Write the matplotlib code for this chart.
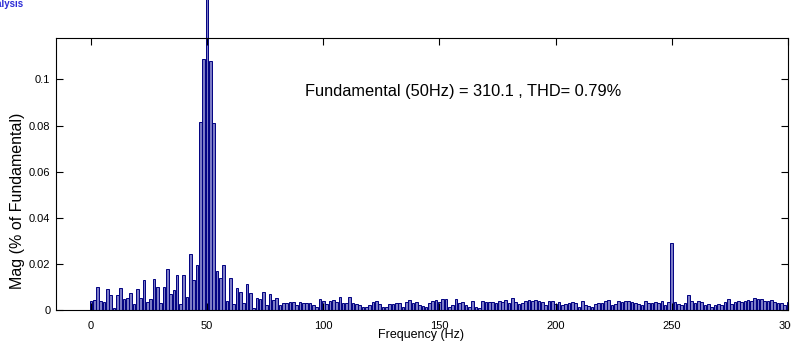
import numpy as np
from matplotlib import pyplot as plt

plt.rcParams['font.family'] = ['Liberation Sans', 'DejaVu Sans']

# FFT bins, 0.7 s window -> 10/7 Hz resolution, bin 35 = 50 Hz fundamental
freq_step = 10 / 7
mag = [
    0.0041, 0.0043, 0.0101, 0.0041, 0.0036, 0.0090, 0.0064, 0.0010, 0.0064, 0.0094,
    0.0048, 0.0051, 0.0075, 0.0026, 0.0090, 0.0052, 0.0128, 0.0036, 0.0048, 0.0133,
    0.0101, 0.0032, 0.0101, 0.0177, 0.0070, 0.0087, 0.0151, 0.0026, 0.0151, 0.0058,
    0.0241, 0.0128, 0.0194, 0.0817, 0.1090, 1.0000, 0.1080, 0.0810, 0.0171, 0.0139,
    0.0197, 0.0041, 0.0139, 0.0026, 0.0096, 0.0080, 0.0032, 0.0113, 0.0072, 0.0010,
    0.0054, 0.0048, 0.0080, 0.0022, 0.0070, 0.0043, 0.0052, 0.0020, 0.0032, 0.0029,
    0.0036, 0.0036, 0.0022, 0.0036, 0.0029, 0.0029, 0.0032, 0.0022, 0.0014, 0.0048,
    0.0041, 0.0024, 0.0041, 0.0043, 0.0035, 0.0055, 0.0032, 0.0029, 0.0058, 0.0029,
    0.0026, 0.0023, 0.0012, 0.0014, 0.0020, 0.0035, 0.0038, 0.0026, 0.0014, 0.0012,
    0.0026, 0.0026, 0.0029, 0.0032, 0.0012, 0.0035, 0.0043, 0.0029, 0.0035, 0.0023,
    0.0017, 0.0014, 0.0032, 0.0038, 0.0043, 0.0035, 0.0049, 0.0049, 0.0012, 0.0023,
    0.0049, 0.0029, 0.0035, 0.0020, 0.0014, 0.0038, 0.0012, 0.0009, 0.0038, 0.0035,
    0.0035, 0.0035, 0.0032, 0.0041, 0.0035, 0.0043, 0.0029, 0.0052, 0.0035, 0.0026,
    0.0032, 0.0038, 0.0043, 0.0041, 0.0043, 0.0038, 0.0035, 0.0023, 0.0038, 0.0041,
    0.0025, 0.0035, 0.0023, 0.0026, 0.0032, 0.0035, 0.0032, 0.0012, 0.0038, 0.0023,
    0.0017, 0.0014, 0.0026, 0.0029, 0.0032, 0.0038, 0.0043, 0.0020, 0.0026, 0.0038,
    0.0035, 0.0041, 0.0038, 0.0035, 0.0029, 0.0026, 0.0023, 0.0038, 0.0032, 0.0029,
    0.0035, 0.0029, 0.0041, 0.0023, 0.0035, 0.0290, 0.0035, 0.0026, 0.0020, 0.0029,
    0.0064, 0.0040, 0.0029, 0.0041, 0.0035, 0.0023, 0.0026, 0.0014, 0.0020, 0.0026,
    0.0023, 0.0035, 0.0049, 0.0026, 0.0035, 0.0038, 0.0035, 0.0041, 0.0043, 0.0041,
    0.0052, 0.0046, 0.0049, 0.0038, 0.0041, 0.0043, 0.0035, 0.0032, 0.0029, 0.0023,
    0.0035,
]
freqs = np.arange(len(mag)) * freq_step
fundamental_idx = 35

x_ticks = [0, 50, 100, 150, 200, 250, 300]
y_ticks = [0, 0.02, 0.04, 0.06, 0.08, 0.1]
y_tick_labels = ["0", "0.02", "0.04", "0.06", "0.08", "0.1"]
info_text = "Fundamental (50Hz) = 310.1 , THD= 0.79%"

fig = plt.figure(figsize=(7.91, 3.49), dpi=100)
ax = fig.add_axes([56 / 791, 1 - 310 / 349, 732 / 791, 272 / 349])

bars = ax.bar(freqs, mag, width=0.8 * freq_step, color='#7c7cc6',
              edgecolor='#000080', linewidth=0.7)
# fundamental sticks out past the top of the axes like in the original
bars[fundamental_idx].set_clip_on(False)

ax.set_xlim(-15, 300)
ax.set_ylim(0, 0.118)
ax.set_xticks(x_ticks)
ax.set_yticks(y_ticks)
ax.set_yticklabels(y_tick_labels)
ax.tick_params(direction='in', length=5, width=0.8, top=True, right=True, labelsize=8)
ax.tick_params(axis='x', pad=8)
ax.tick_params(axis='y', pad=4)
for sp in ax.spines.values():
    sp.set_linewidth(0.8)

ax.set_xlabel("Frequency (Hz)", fontsize=9)
ax.xaxis.set_label_coords(0.4986, -0.092)
ax.xaxis.label.set_va('center')
ax.set_ylabel("Mag (% of Fundamental)", fontsize=11.5)
ax.yaxis.set_label_coords(-0.052, 0.40)
ax.yaxis.label.set_va('center')

ax.text(92, 0.0948, info_text, fontsize=11.8, va='center', ha='left')

fig.text(23 / 791, 1 - 4 / 349, "FFT Analysis", ha='right', va='center',
         color='#2b2bd6', fontsize=7, fontweight='bold')

fig.savefig("out.png", dpi=100)
plt.close(fig)
